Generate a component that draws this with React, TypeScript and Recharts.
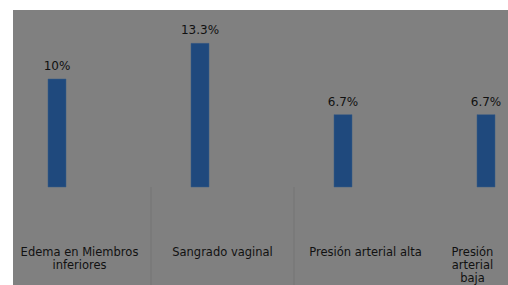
import { BarChart, Bar, XAxis, YAxis, LabelList, Text } from "recharts";

const categories = [
  "Edema en Miembros inferiores",
  "Sangrado vaginal",
  "Presión arterial alta",
  "Presión arterial baja",
];
const porcentajes = [10, 13.3, 6.7, 6.7];
// second series of the original sheet is empty, it only reserves room in each group
const serieVacia = [null, null, null, null];

const data = categories.map((c, i) => ({
  name: c,
  pct: porcentajes[i],
  vacia: serieVacia[i],
}));

const CHART_W = 572;
const CHART_H = 275;
const SHIFT = 5; // chart is cropped on the left by the frame
const FRAME_W = 495;
const BAND = CHART_W / categories.length;
const FONT = "DejaVu Sans, Verdana, sans-serif";

function CategoryTick(props: any) {
  const { x, y, payload, index } = props;
  const left = x - BAND / 2;
  const right = Math.min(x + BAND / 2, FRAME_W + SHIFT);
  const cx = (left + right) / 2;
  const w = right - left - 8;
  const showSep = index > 0 && index < categories.length - 1;
  return (
    <g>
      {showSep && (
        <line
          x1={left}
          x2={left}
          y1={y}
          y2={CHART_H}
          stroke="#747474"
          strokeWidth={1}
        />
      )}
      <Text
        x={cx}
        y={y + 61}
        width={w}
        textAnchor="middle"
        verticalAnchor="start"
        lineHeight={13}
        fill="#111"
        fontSize={11.5}
        fontFamily={FONT}
      >
        {payload.value}
      </Text>
    </g>
  );
}

export default function App() {
  return (
    <div
      style={{
        position: "fixed",
        left: 13,
        top: 10,
        width: FRAME_W,
        height: CHART_H,
        overflow: "hidden",
        background: "#808080",
      }}
    >
      <div style={{ position: "absolute", left: -SHIFT, top: 0 }}>
        <BarChart
          width={CHART_W}
          height={CHART_H}
          data={data}
          margin={{ top: 15, right: 0, left: 0, bottom: 0 }}
          barGap={28}
        >
          <XAxis
            dataKey="name"
            height={98}
            axisLine={false}
            tickLine={false}
            tickSize={0}
            tickMargin={0}
            interval={0}
            tick={<CategoryTick />}
          />
          <YAxis hide domain={[0, 15]} />
          <Bar
            dataKey="pct"
            fill="#1F497D"
            stroke="#3b5d86"
            strokeWidth={0.5}
            barSize={18}
            isAnimationActive={false}
          >
            <LabelList
              dataKey="pct"
              position="top"
              offset={9}
              formatter={(v: any) => `${v}%`}
              fill="#111"
              fontSize={12}
              fontFamily={FONT}
            />
          </Bar>
          <Bar
            dataKey="vacia"
            fill="#808080"
            barSize={18}
            isAnimationActive={false}
          />
        </BarChart>
      </div>
    </div>
  );
}
